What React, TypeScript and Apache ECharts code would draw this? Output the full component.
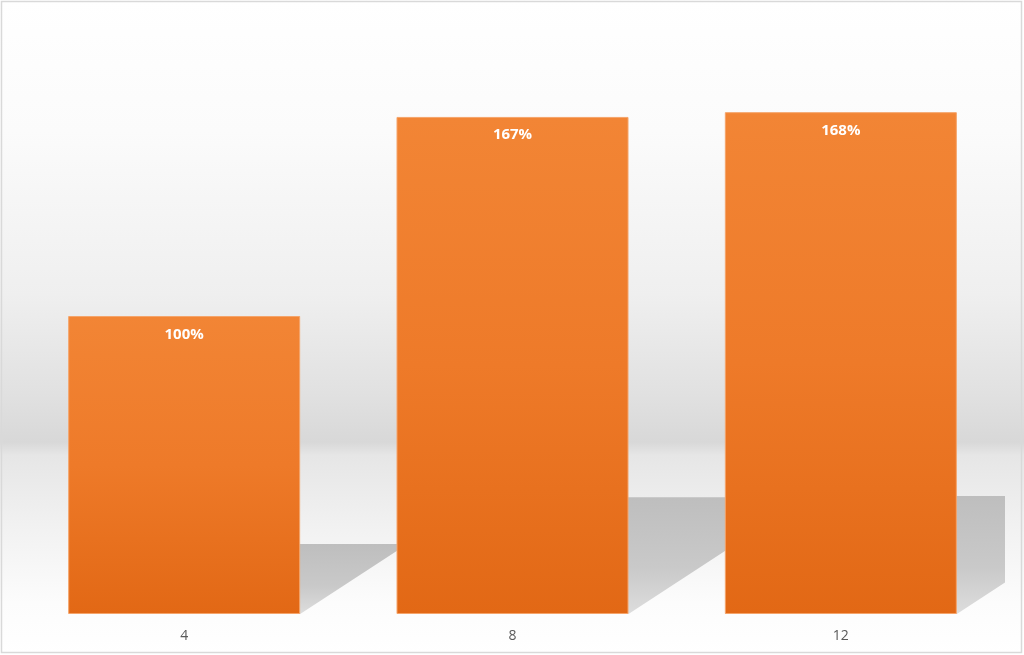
import React, { useEffect, useRef } from "react";
import * as echarts from "echarts";

const categories = ["4", "8", "12"];
const values = [1.0, 1.668, 1.684];

const BAR_W = 232;
const SHADOW_RISE = 0.235; // shadow height relative to bar height
const SHADOW_SHIFT = 0.36; // horizontal shift relative to bar height

function clipRight(points: number[][], xr: number): number[][] {
  const out: number[][] = [];
  for (let i = 0; i < points.length; i++) {
    const a = points[i];
    const b = points[(i + 1) % points.length];
    const ain = a[0] <= xr;
    const bin = b[0] <= xr;
    if (ain) out.push(a);
    if (ain !== bin) {
      const t = (xr - a[0]) / (b[0] - a[0]);
      out.push([xr, a[1] + t * (b[1] - a[1])]);
    }
  }
  return out;
}

export default function App() {
  const ref = useRef<HTMLDivElement>(null);
  useEffect(() => {
    if (!ref.current) return;
    const chart = echarts.init(ref.current, undefined, { renderer: "svg" });
    const barColor = new echarts.graphic.LinearGradient(0, 0, 0, 1, [
      { offset: 0, color: "#f28535" },
      { offset: 0.5, color: "#ee7a29" },
      { offset: 1, color: "#e26815" },
    ]);
    chart.setOption({
      animation: false,
      grid: { left: 20, right: 19, top: 18, bottom: 41 },
      graphic: [
        {
          type: "rect",
          z: -10,
          silent: true,
          shape: { x: 0, y: 0, width: 1024, height: 655 },
          style: {
            fill: new echarts.graphic.LinearGradient(0, 0, 0, 1, [
              { offset: 0, color: "#ffffff" },
              { offset: 0.2, color: "#fbfbfb" },
              { offset: 0.45, color: "#efefef" },
              { offset: 0.6, color: "#e1e1e1" },
              { offset: 0.675, color: "#d8d8d8" },
              { offset: 0.695, color: "#e6e6e6" },
              { offset: 0.8, color: "#f1f1f1" },
              { offset: 0.92, color: "#fcfcfc" },
              { offset: 1, color: "#ffffff" },
            ]),
          },
        },
        {
          type: "rect",
          z: 100,
          silent: true,
          shape: { x: 1.5, y: 1.5, width: 1020, height: 651 },
          style: { fill: "none", stroke: "#d9d9d9", lineWidth: 1.5 },
        },
      ],
      xAxis: {
        type: "category",
        data: categories,
        axisLine: { show: false },
        axisTick: { show: false },
        axisLabel: {
          color: "#595959",
          fontSize: 14,
          fontFamily: "Open Sans",
          margin: 13,
        },
      },
      yAxis: {
        type: "value",
        min: 0,
        max: 2,
        show: false,
        splitLine: { show: false },
      },
      series: [
        {
          type: "custom",
          z: 1,
          silent: true,
          data: values.map((v, i) => [i, v]),
          encode: { x: 0, y: 1 },
          renderItem: (params: any, api: any) => {
            const idx = api.value(0);
            const v = api.value(1);
            const base = api.coord([idx, 0]);
            const top = api.coord([idx, v]);
            const h = base[1] - top[1];
            const x0 = base[0] - BAR_W / 2;
            const x1 = base[0] + BAR_W / 2;
            const B = base[1];
            const T = B - SHADOW_RISE * h;
            const s = SHADOW_SHIFT * h;
            const cs = params.coordSys;
            const pts = clipRight(
              [
                [x0, B],
                [x1, B],
                [x1 + s, T],
                [x0 + s, T],
              ],
              cs.x + cs.width
            );
            return {
              type: "polygon",
              shape: { points: pts },
              style: {
                fill: new echarts.graphic.LinearGradient(0, 0, 0, 1, [
                  { offset: 0, color: "#bebebe" },
                  { offset: 0.6, color: "#c9c9c9" },
                  { offset: 1, color: "#dddddd" },
                ]),
              },
            };
          },
        },
        {
          type: "bar",
          z: 2,
          data: values,
          barWidth: BAR_W,
          itemStyle: {
            color: barColor,
            borderColor: "#f5a46a",
            borderWidth: 1,
          },
          label: {
            show: true,
            position: "insideTop",
            distance: 9,
            color: "#ffffff",
            fontWeight: "bold",
            fontSize: 15,
            fontFamily: "Open Sans",
            formatter: (p: any) => Math.round(p.value * 100) + "%",
          },
        },
      ],
    });
    return () => chart.dispose();
  }, []);
  return (
    <div
      ref={ref}
      style={{ position: "fixed", left: 0, top: 0, width: 1024, height: 655 }}
    />
  );
}
